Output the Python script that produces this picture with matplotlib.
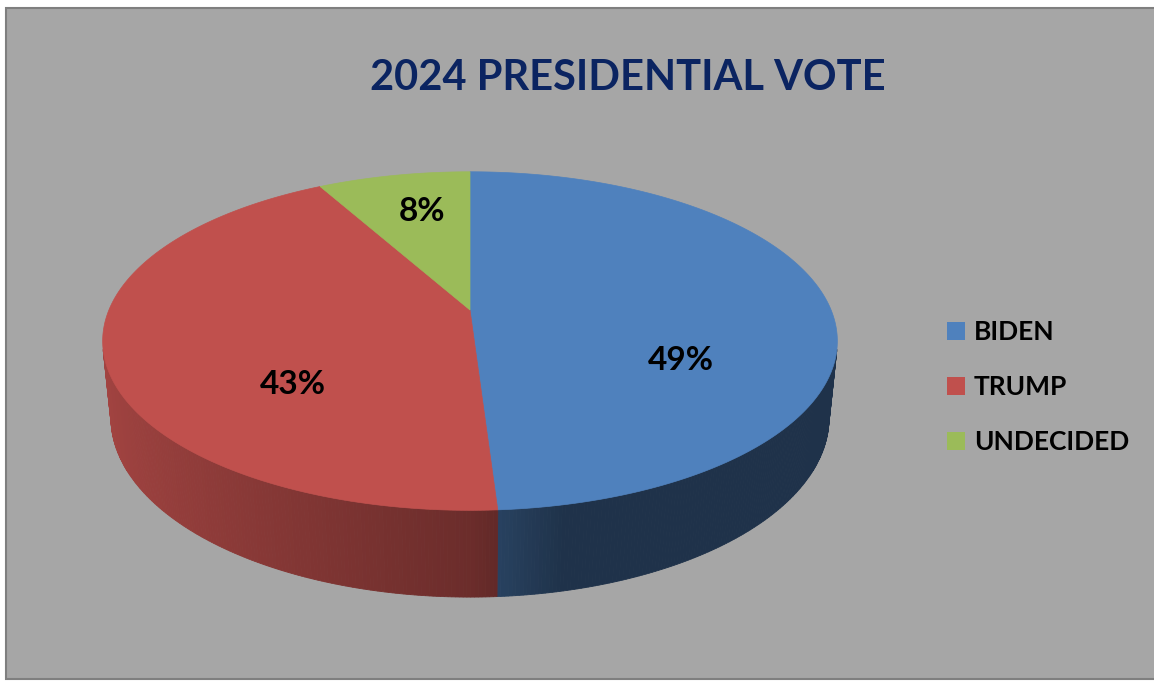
import numpy as np
import matplotlib.pyplot as plt
from matplotlib.patches import Polygon, Rectangle

plt.rcParams['font.family'] = ['Lato', 'DejaVu Sans']

# data
names = ['BIDEN', 'TRUMP', 'UNDECIDED']
values = [49, 43, 8]
colors = ['#4F81BD', '#C0504D', '#9BBB59']
title = '2024 PRESIDENTIAL VOTE'

W, H = 1154, 681
fig = plt.figure(figsize=(W / 100, H / 100), dpi=100)
fig.patch.set_facecolor('white')
ax = fig.add_axes([0, 0, 1, 1])
ax.set_xlim(0, W)
ax.set_ylim(H, 0)
ax.axis('off')

# chart area
ax.add_patch(Rectangle((6, 8), 1170, 671, fc='#A6A6A6', ec='#7F7F7F', lw=1.5))

# 3d pie, simple perspective camera
cx, cy = 470, 310
s = 1755
D = 4.86
sa = 0.453
ca = np.sqrt(1 - sa ** 2)
thick = 0.24


def proj(theta, r=1.0, h=0.0):
    x = r * np.sin(theta)
    z = -r * np.cos(theta)
    depth = D - z * ca + h * sa
    return cx + s * x / depth, cy + s * (z * sa + h * ca) / depth


def shade(color, theta):
    # light from the left, darker towards the right
    rgb = np.array(plt.matplotlib.colors.to_rgb(color))
    sx = np.sin(theta)
    if sx < 0:
        f = 0.56 - 0.29 * sx
    else:
        f = max(0.39, 0.56 - 0.8 * sx)
    return tuple(rgb * f)


frac = np.array(values) / np.sum(values)
edges = np.concatenate([[0], np.cumsum(frac)]) * 2 * np.pi

# visible part of the side wall
tvis = np.arccos(-1 / (D * ca))
vis_lo, vis_hi = tvis, 2 * np.pi - tvis

for i in range(len(values)):
    a0 = max(edges[i], vis_lo)
    a1 = min(edges[i + 1], vis_hi)
    if a1 <= a0:
        continue
    n = max(2, int(np.degrees(a1 - a0) / 0.5))
    tt = np.linspace(a0, a1, n + 1)
    for k in range(n):
        ta, tb = tt[k], tt[k + 1]
        pts = [proj(ta), proj(tb), proj(tb, h=thick), proj(ta, h=thick)]
        c = shade(colors[i], (ta + tb) / 2)
        ax.add_patch(Polygon(pts, closed=True, fc=c, ec=c, lw=0.6))

# top faces
for i in range(len(values)):
    tt = np.linspace(edges[i], edges[i + 1], 200)
    pts = [proj(0, r=0)] + [proj(t) for t in tt]
    ax.add_patch(Polygon(pts, closed=True, fc=colors[i], ec=colors[i], lw=0.5))

# data labels (angle nudge / radius are layout only)
label_dt = [0.50, -0.45, 0.04]
label_r = [0.62, 0.61, 0.71]
cap = 0.7165 * 24 * 100 / 72
for i in range(len(values)):
    tm = (edges[i] + edges[i + 1]) / 2 + label_dt[i]
    lx, ly = proj(tm, r=label_r[i])
    ax.text(lx, ly + cap / 2, f'{values[i]}%', ha='center', va='baseline',
            fontsize=24, fontweight='bold', color='black')

# legend
leg_x, leg_y0, leg_dy, box = 947, 331, 55, 18
cap_l = 0.7165 * 19 * 100 / 72
for i, nm in enumerate(names):
    y = leg_y0 + i * leg_dy
    ax.add_patch(Rectangle((leg_x, y - box / 2), box, box, fc=colors[i], ec='none'))
    ax.text(leg_x + box + 9, y + cap_l / 2, nm, ha='left', va='baseline',
            fontsize=19, fontweight='bold', color='black')

# title
ax.text(628, 90, title, ha='center', va='baseline', fontsize=30,
        fontweight='bold', color='#0B2461')

fig.savefig('out.png', dpi=100, facecolor='white')
